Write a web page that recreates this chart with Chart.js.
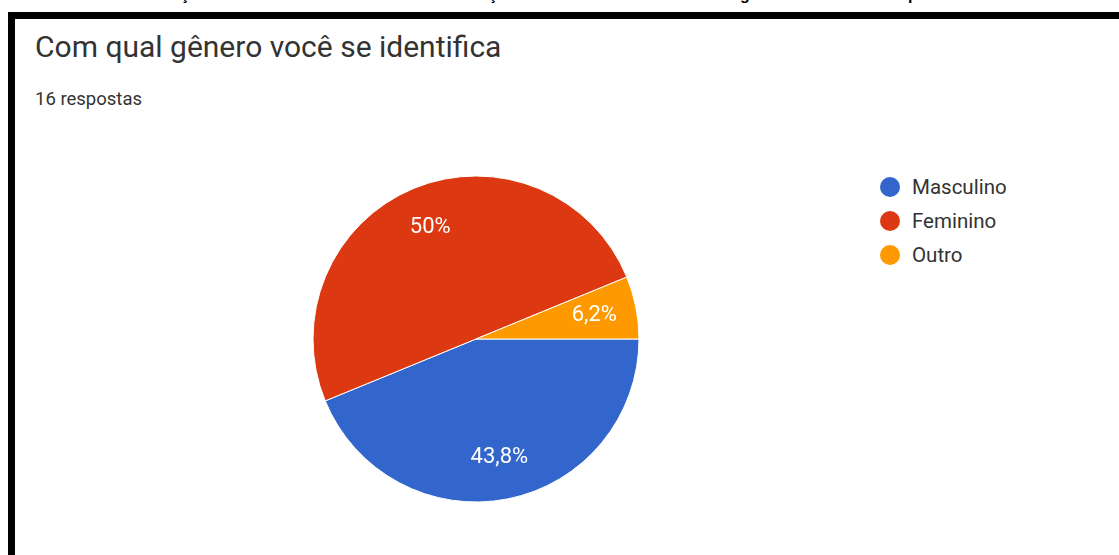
<!DOCTYPE html>
<html lang="pt-BR">
<head>
<meta charset="utf-8">
<title>Com qual gênero você se identifica</title>
<script src="https://cdn.jsdelivr.net/npm/chart.js@4.4.1/dist/chart.umd.min.js"></script>
<style>
    html, body {
        margin: 0;
        padding: 0;
        width: 1119px;
        height: 555px;
        overflow: hidden;
        background: #fff;
        position: relative;
        font-family: Roboto, Arial, sans-serif;
    }
    /* caption of the figure, only its lower edge shows above the frame */
    .legenda-figura {
        position: absolute;
        left: 0;
        top: 0;
        width: 1119px;
        height: 10px;
        overflow: hidden;
    }
    .legenda-figura span {
        position: absolute;
        top: -13px;
        font: bold 16px "Liberation Sans", Arial, sans-serif;
        line-height: 16px;
        white-space: nowrap;
        color: #000;
    }
    #moldura {
        position: absolute;
        left: 8px;
        top: 12px;
        width: 1120px;
        height: 560px;
        border-top: 7px solid #000;
        border-left: 7px solid #000;
    }
    #titulo {
        position: absolute;
        left: 35px;
        top: 32px;
        font-size: 30px;
        line-height: 30px;
        color: #333;
        white-space: nowrap;
    }
    #respostas {
        position: absolute;
        left: 35px;
        top: 90px;
        font-size: 18.5px;
        line-height: 18px;
        color: #333;
    }
    #grafico {
        position: absolute;
        left: 296px;
        top: 159px;
    }
    #legenda {
        position: absolute;
        left: 880px;
        top: 170px;
    }
    #legenda .item {
        display: flex;
        align-items: center;
        height: 34px;
    }
    #legenda .bola {
        width: 20px;
        height: 20px;
        border-radius: 50%;
        margin-right: 12px;
    }
    #legenda .texto {
        font-size: 20.5px;
        line-height: 20px;
        color: #333;
    }
</style>
</head>
<body>

<div class="legenda-figura">
    <span style="left: 23px;">Gráfico 3 – Identificação dos entrevistados em</span>
    <span style="left: 460px;">relação ao reconhecimento de seu</span>
    <span style="left: 740px;">gênero dos alunos</span>
    <span style="left: 908px;">por meio do formulário</span>
</div>

<div id="moldura"></div>

<div id="titulo">Com qual gênero você se identifica</div>
<div id="respostas"></div>

<canvas id="grafico" width="360" height="360"></canvas>
<div id="legenda"></div>

<script>
// Answers to the question
const totalRespostas = 16;
const generos = ['Masculino', 'Feminino', 'Outro'];
const percentuais = [43.8, 50, 6.2];
const cores = ['#3366cc', '#dc3912', '#ff9900'];

document.getElementById('respostas').textContent = `${totalRespostas} respostas`;

// "43.8" -> "43,8%"
function rotulo(valor) {
    return String(valor).replace('.', ',') + '%';
}

// Build the legend next to the pie
function montarLegenda() {
    const legenda = document.getElementById('legenda');
    generos.forEach((nome, i) => {
        const item = document.createElement('div');
        item.className = 'item';
        item.innerHTML = `<span class="bola" style="background:${cores[i]}"></span><span class="texto">${nome}</span>`;
        legenda.appendChild(item);
    });
}

// White percentage text inside each slice
const rotulosPlugin = {
    id: 'rotulos',
    afterDatasetsDraw(chart) {
        const ctx = chart.ctx;
        const meta = chart.getDatasetMeta(0);
        ctx.save();
        ctx.fillStyle = '#fff';
        ctx.font = '22px Roboto';
        ctx.textAlign = 'center';
        ctx.textBaseline = 'middle';
        meta.data.forEach((arc, i) => {
            const { x, y, startAngle, endAngle, outerRadius } =
                arc.getProps(['x', 'y', 'startAngle', 'endAngle', 'outerRadius'], true);
            const meio = (startAngle + endAngle) / 2;
            const d = outerRadius * 0.74;
            ctx.fillText(rotulo(percentuais[i]), x + Math.cos(meio) * d, y + Math.sin(meio) * d);
        });
        ctx.restore();
    }
};

const ctx = document.getElementById('grafico').getContext('2d');

const graficoGenero = new Chart(ctx, {
    type: 'pie',
    data: {
        labels: generos,
        datasets: [{
            data: percentuais,
            backgroundColor: cores,
            borderColor: '#fff',
            borderWidth: 1,
        }]
    },
    options: {
        responsive: false,
        animation: false,
        radius: 163,
        rotation: 90,
        layout: { padding: 0 },
        plugins: {
            legend: { display: false },
            tooltip: { enabled: false },
        },
    },
    plugins: [rotulosPlugin]
});

montarLegenda();
</script>
</body>
</html>
